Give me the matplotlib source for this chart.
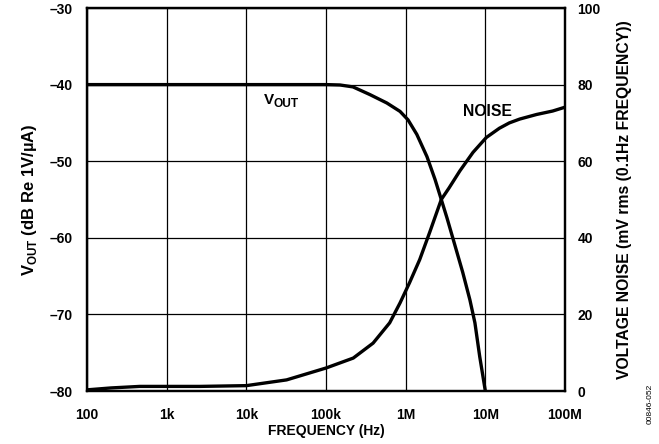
import matplotlib
matplotlib.use("Agg")
import matplotlib.pyplot as plt
from matplotlib.transforms import offset_copy

plt.rcParams['font.family'] = ['Liberation Sans', 'DejaVu Sans']
plt.rcParams['font.weight'] = 'bold'
plt.rcParams['mathtext.fontset'] = 'custom'
plt.rcParams['mathtext.rm'] = 'Liberation Sans:bold'
plt.rcParams['mathtext.bf'] = 'Liberation Sans:bold'

# Output level vs frequency (dB re 1 V/uA)
vout_freq = [100, 1e3, 1e4, 1e5, 1.5e5, 2.18e5, 3.55e5, 5.8e5, 8.5e5, 1.07e6, 1.38e6,
             1.85e6, 2.34e6, 2.8e6, 3.3e6, 3.9e6, 5.2e6, 6.4e6, 7.4e6, 8.5e6, 1e7]
vout_db = [-40, -40, -40, -40, -40.05, -40.3, -41.3, -42.4, -43.5, -44.6, -46.5,
           -49.4, -52.4, -55.0, -57.4, -60.0, -64.5, -68.1, -71.1, -75.5, -80]

# Integrated voltage noise (mV rms, 0.1 Hz to frequency)
noise_freq = [100, 200, 460, 1e3, 2.6e3, 1e4, 3.2e4, 1e5, 2.2e5, 3.9e5, 6.3e5,
              8.5e5, 1.12e6, 1.5e6, 2.0e6, 2.8e6, 3.5e6, 4.8e6, 7e6, 1.03e7,
              1.5e7, 2.0e7, 2.7e7, 4.4e7, 7e7, 1e8]
noise_mv = [0.3, 0.8, 1.2, 1.2, 1.2, 1.4, 2.9, 6.0, 8.6, 12.5, 17.8,
            23.0, 28.3, 34.3, 41.4, 50.0, 53.0, 57.5, 62.3, 66.2,
            68.6, 70.0, 71.0, 72.2, 73.1, 74.1]

freq_ticks = [1e2, 1e3, 1e4, 1e5, 1e6, 1e7, 1e8]
freq_labels = ['100', '1k', '10k', '100k', '1M', '10M', '100M']
db_ticks = [-80, -70, -60, -50, -40, -30]
noise_ticks = [0, 20, 40, 60, 80, 100]

fig = plt.figure(figsize=(6.59, 4.44), dpi=100)
ax = fig.add_axes([87 / 659, 1 - 391 / 444, 478 / 659, 383 / 444])
ax2 = ax.twinx()

ax.semilogx(vout_freq, vout_db, color='black', lw=2.4, solid_joinstyle='round')
ax2.plot(noise_freq, noise_mv, color='black', lw=2.4, solid_joinstyle='round')

ax.set_xlim(1e2, 1e8)
ax.set_ylim(-80, -30)
ax2.set_ylim(0, 100)

ax.set_xticks(freq_ticks)
ax.set_xticklabels(freq_labels)
ax.xaxis.set_minor_locator(matplotlib.ticker.NullLocator())
ax.set_yticks(db_ticks)
ax.set_yticklabels([f'{v}'.replace('-', '\u2013') for v in db_ticks])
ax2.set_yticks(noise_ticks)

ax.grid(True, which='major', color='black', lw=0.9)
ax.set_axisbelow(True)

for a in (ax, ax2):
    for s in a.spines.values():
        s.set_linewidth(1.6)
        s.set_color('black')
    a.tick_params(length=0, labelsize=10)

ax.tick_params(axis='x', pad=12)
ax.tick_params(axis='y', pad=10)
ax2.tick_params(axis='y', pad=9)

ax.set_xlabel('FREQUENCY (Hz)', fontsize=10, fontweight='bold', labelpad=2)
ax.set_ylabel(r'V$_{\mathrm{OUT}}$ (dB Re 1V/µA)', fontsize=12, fontweight='bold',
              labelpad=8)
ax2.set_ylabel('VOLTAGE NOISE (mV rms (0.1Hz FREQUENCY))', fontsize=11.3,
               fontweight='bold', labelpad=12)

# in-plot curve labels
vx, vy = 1.65e4, -41.95
ax.text(vx, vy, 'V', fontsize=11, fontweight='bold', ha='left', va='center')
ax.text(vx, vy, 'OUT', fontsize=8.6, fontweight='bold', ha='left', va='center',
        transform=offset_copy(ax.transData, fig=fig, x=7.4, y=-3.2, units='points'))
ax2.text(5.3e6, 73.0, 'NOISE', fontsize=11.3, fontweight='bold', ha='left', va='center')

fig.text(650 / 659, 1 - 404 / 444, '00846-052', rotation=90, fontsize=6,
         fontweight='normal', ha='center', va='center')

fig.savefig('out.png', dpi=100)
